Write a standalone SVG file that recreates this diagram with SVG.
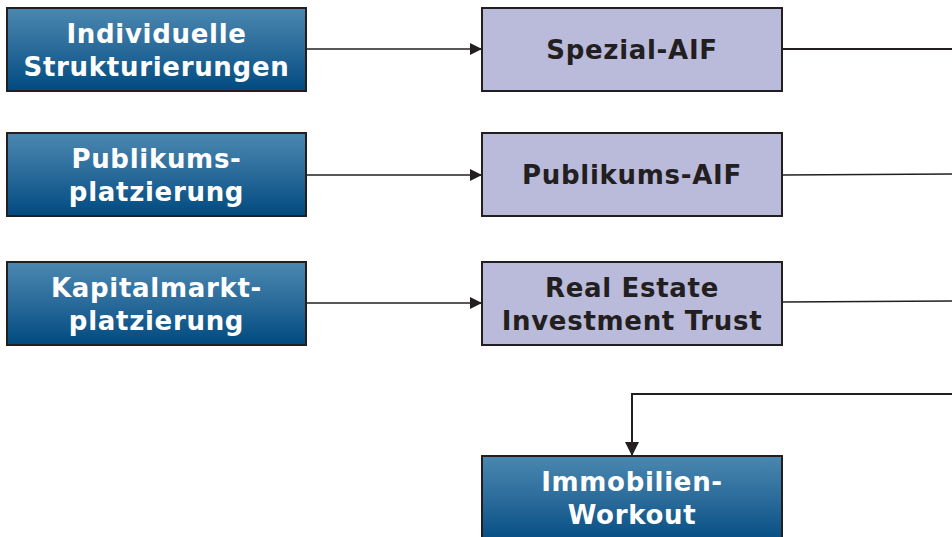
<svg xmlns="http://www.w3.org/2000/svg" width="952" height="537" viewBox="0 0 952 537">
<defs>
<linearGradient id="blue" x1="0" y1="0" x2="0" y2="1">
<stop offset="0" stop-color="#4a88b0"/>
<stop offset="0.45" stop-color="#2d6d9c"/>
<stop offset="1" stop-color="#004a80"/>
</linearGradient>
<marker id="arr" viewBox="0 0 10 10" refX="10" refY="5" markerWidth="12" markerHeight="12" markerUnits="userSpaceOnUse" orient="auto">
<path d="M0,0 L10,5 L0,10 z" fill="#231f20"/>
</marker>
<marker id="arrD" viewBox="0 0 10 10" refX="10" refY="5" markerWidth="14" markerHeight="14" markerUnits="userSpaceOnUse" orient="auto">
<path d="M0,0 L10,5 L0,10 z" fill="#231f20"/>
</marker>
</defs>
<style>
.bb{fill:url(#blue);stroke:#231f20;stroke-width:2}
.pb{fill:#babadb;stroke:#231f20;stroke-width:2}
.wt{font-family:"DejaVu Sans",Verdana,sans-serif;font-weight:bold;font-size:26px;letter-spacing:0.7px;fill:#ffffff;text-anchor:middle}
.dt{font-family:"DejaVu Sans",Verdana,sans-serif;font-weight:bold;font-size:26px;letter-spacing:0.7px;fill:#231f20;text-anchor:middle}
.ln{fill:none;stroke:#231f20;stroke-width:1.3}
.lt{fill:none;stroke:#231f20;stroke-width:2}
</style>
<g id="connectors">
<line class="ln" x1="306" y1="49" x2="482" y2="49" marker-end="url(#arr)"/>
<line class="ln" x1="306" y1="175" x2="482" y2="175" marker-end="url(#arr)"/>
<line class="ln" x1="306" y1="303" x2="482" y2="303" marker-end="url(#arr)"/>
<line class="lt" x1="782" y1="49" x2="952" y2="49"/>
<line class="ln" x1="782" y1="175" x2="952" y2="174"/>
<line class="ln" x1="782" y1="302" x2="952" y2="301"/>
<path class="lt" d="M952,394 L632,394 L632,456" marker-end="url(#arrD)"/>
</g>
<g id="individuelle">
<rect class="bb" x="7" y="8" width="299" height="83"/>
<text class="wt" x="156.5" y="43">Individuelle</text>
<text class="wt" x="156.5" y="76">Strukturierungen</text>
</g>
<g id="publikums">
<rect class="bb" x="7" y="133" width="299" height="83"/>
<text class="wt" x="156.5" y="168">Publikums-</text>
<text class="wt" x="156.5" y="201">platzierung</text>
</g>
<g id="kapitalmarkt">
<rect class="bb" x="7" y="262" width="299" height="83"/>
<text class="wt" x="156.5" y="297">Kapitalmarkt-</text>
<text class="wt" x="156.5" y="330">platzierung</text>
</g>
<g id="spezial-aif">
<rect class="pb" x="482" y="8" width="300" height="83"/>
<text class="dt" x="632" y="59">Spezial-AIF</text>
</g>
<g id="publikums-aif">
<rect class="pb" x="482" y="133" width="300" height="83"/>
<text class="dt" x="632" y="184">Publikums-AIF</text>
</g>
<g id="reit">
<rect class="pb" x="482" y="262" width="300" height="83"/>
<text class="dt" x="632" y="297">Real Estate</text>
<text class="dt" x="632" y="330">Investment Trust</text>
</g>
<g id="workout">
<rect class="bb" x="482" y="456" width="300" height="90"/>
<text class="wt" x="632" y="491">Immobilien-</text>
<text class="wt" x="632" y="524">Workout</text>
</g>
</svg>
